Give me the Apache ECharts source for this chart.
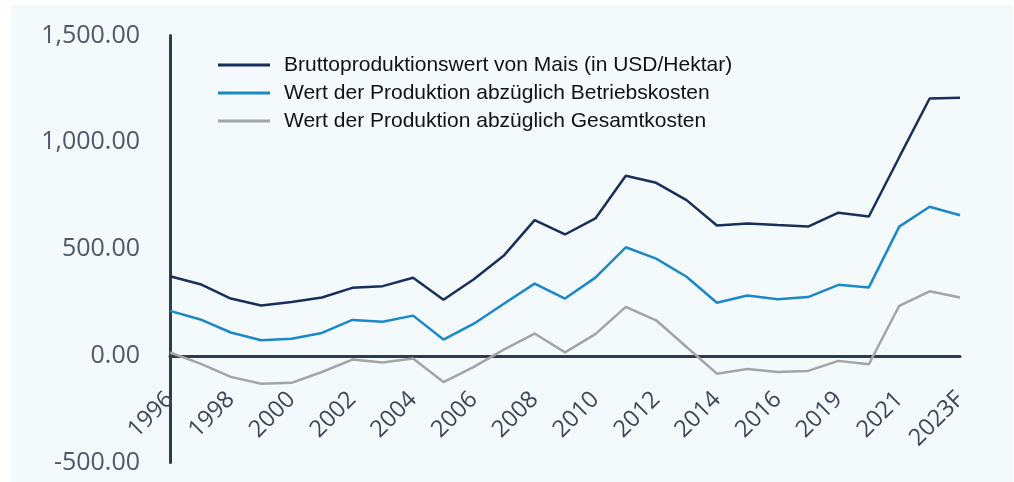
<!DOCTYPE html>
<html>
<head>
<meta charset="utf-8">
<script src="https://cdn.jsdelivr.net/npm/echarts@6/dist/echarts.min.js"></script>
<style>
    html, body {margin: 0; padding: 0; background: #fff;}
    #bg {position: absolute; left: 11px; top: 5px; width: 1002px; height: 477px; background: #f4f9fc;}
    #chart {position: absolute; left: 0; top: 0; width: 1014px; height: 482px;}
</style>
</head>
<body>
<div id="bg"></div>
<div id="chart"></div>
<script>
const years = [
    '1996', '1997', '1998', '1999', '2000', '2001', '2002', '2003', '2004', '2005',
    '2006', '2007', '2008', '2009', '2010', '2011', '2012', '2013', '2014', '2015',
    '2016', '2017', '2019', '2020', '2021', '2022', '2023F'
];
// Bruttoproduktionswert (USD/ha)
const grossValue = [
    372, 335, 268, 235, 252, 273, 318, 326, 365, 262,
    358, 471, 635, 568, 643, 843, 810, 729, 610, 620,
    612, 605, 670, 652, 930, 1205, 1208
];
// minus Betriebskosten
const netOperating = [
    210, 170, 109, 73, 80, 107, 168, 159, 188, 76,
    150, 245, 338, 268, 366, 508, 455, 370, 248, 282,
    265, 275, 332, 320, 605, 698, 658
];
// minus Gesamtkosten
const netTotal = [
    15, -37, -99, -131, -127, -76, -18, -32, -13, -123,
    -52, 30, 104, 16, 101, 229, 166, 41, -84, -62,
    -76, -71, -24, -40, 234, 302, 273
];
const seriesNames = [
    'Bruttoproduktionswert von Mais (in USD/Hektar)',
    'Wert der Produktion abzüglich Betriebskosten',
    'Wert der Produktion abzüglich Gesamtkosten'
];
const yTicks = [-500, 0, 500, 1000, 1500];

const chart = echarts.init(document.getElementById('chart'));

function fmt(v) {
    let s = Math.abs(v).toFixed(2);
    let parts = s.split('.');
    parts[0] = parts[0].replace(/\B(?=(\d{3})+(?!\d))/g, ',');
    return (v < 0 ? '-' : '') + parts.join('.');
}

const colors = ['#182f5b', '#1b88c9', '#a2a5a8'];
const dataSets = [grossValue, netOperating, netTotal];

// grid geometry, x axis is lifted from the bottom edge to the zero line
const gridTop = 35.5, gridBottom = 19.5;
const plotH = 482 - gridTop - gridBottom;
const zeroShift = plotH * (0 - yTicks[0]) / (yTicks[yTicks.length - 1] - yTicks[0]);

let option = {
    animation: false,
    backgroundColor: 'transparent',
    grid: {
        left: 170,
        right: 54,
        top: gridTop,
        bottom: gridBottom,
        containLabel: false,
        outerBoundsMode: 'none'
    },
    legend: {
        orient: 'vertical',
        left: 213,
        top: 47,
        icon: 'rect',
        itemWidth: 52,
        itemHeight: 3,
        itemGap: 2,
        textStyle: {
            fontFamily: 'Liberation Sans',
            fontSize: 21,
            color: '#111',
            lineHeight: 26,
            padding: [0, 0, 0, 9]
        },
        data: seriesNames
    },
    xAxis: {
        type: 'category',
        boundaryGap: false,
        data: years,
        offset: -zeroShift,
        axisLine: {
            onZero: false,
            lineStyle: {color: '#2c3d4e', width: 3}
        },
        axisTick: {show: false},
        splitLine: {show: false},
        axisLabel: {
            interval: 1,
            rotate: 45,
            margin: 40,
            fontFamily: 'Open Sans',
            fontSize: 23.5,
            color: '#3a4856'
        }
    },
    yAxis: {
        type: 'value',
        min: yTicks[0],
        max: yTicks[yTicks.length - 1],
        interval: 500,
        axisLine: {
            show: true,
            lineStyle: {color: '#2c3d4e', width: 3}
        },
        axisTick: {show: false},
        splitLine: {show: false},
        axisLabel: {
            margin: 30,
            fontFamily: 'Open Sans',
            fontSize: 25,
            color: '#4b5968',
            formatter: fmt
        }
    },
    series: dataSets.map((d, i) => ({
        name: seriesNames[i],
        type: 'line',
        data: d,
        showSymbol: false,
        symbol: 'none',
        smooth: false,
        z: 3 - i,
        lineStyle: {color: colors[i], width: 2.5},
        itemStyle: {color: colors[i]}
    }))
};
option && chart.setOption(option);
</script>
</body>
</html>
